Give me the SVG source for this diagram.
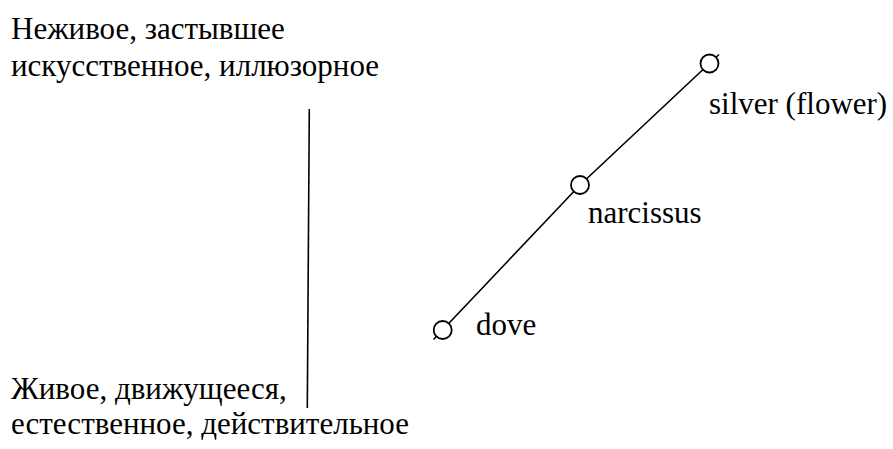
<svg xmlns="http://www.w3.org/2000/svg" width="893" height="449" viewBox="0 0 893 449" font-family="Liberation Serif, Times New Roman, serif">
<rect width="893" height="449" fill="#fff"/>
<g id="connectors" stroke="#000" stroke-width="1.6" fill="none">
<line x1="309.3" y1="109" x2="307.3" y2="408"/>
<polyline points="433.5,339.5 580,185 719,54.5"/>
</g>
<g id="labels-left" font-family="serif">
<text x="11" y="39" font-family="serif" font-size="31">Неживое, застывшее</text>
<text x="11" y="76" font-family="serif" font-size="31">искусственное, иллюзорное</text>
<text x="11" y="399" font-family="serif" font-size="31">Живое, движущееся,</text>
<text x="11" y="434" font-family="serif" font-size="31">естественное, действительное</text>
</g>
<g id="node-dove">
<circle cx="442.7" cy="330" r="9" fill="#fff" stroke="#000" stroke-width="1.8"/>
<text x="476" y="335" font-family="serif" font-size="31">dove</text>
</g>
<g id="node-narcissus">
<circle cx="580" cy="185" r="9" fill="#fff" stroke="#000" stroke-width="1.8"/>
<text x="588" y="223" font-family="serif" font-size="31">narcissus</text>
</g>
<g id="node-silver">
<circle cx="709.5" cy="63.5" r="9" fill="#fff" stroke="#000" stroke-width="1.8"/>
<text x="709" y="114" font-family="serif" font-size="31">silver (flower)</text>
</g>
</svg>
